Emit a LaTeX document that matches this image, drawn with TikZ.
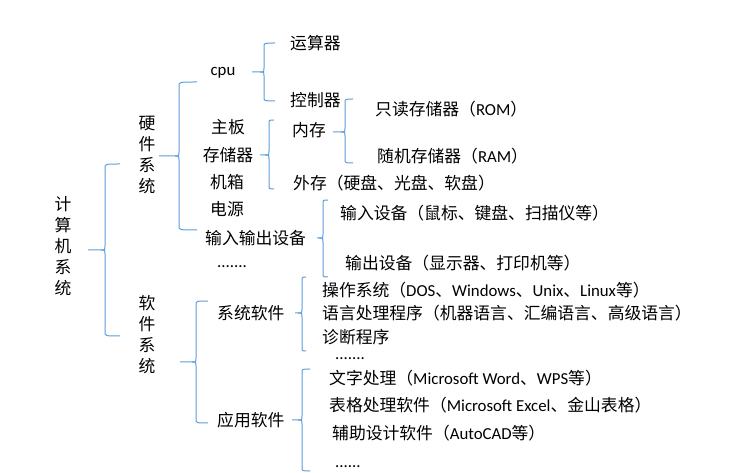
\documentclass[tikz,border=0pt]{standalone}
\usepackage{fontspec}
\setmainfont{Noto Sans CJK SC}
\newfontfamily\latf{Carlito}
\newcommand\la[1]{{\latf #1}}
\definecolor{brc}{HTML}{5E9DDB}
\newcommand\brc[6]{% x, top, mid, bot, xtail, xstub
  \draw[br] (#5,#2) .. controls (#1,#2) .. (#1,{#2+4}) -- (#1,{#3-4}) .. controls (#1,#3) .. ({#1-4},#3) -- (#6,#3);
  \draw[br] ({#1-4},#3) .. controls (#1,#3) .. (#1,{#3+4}) -- (#1,{#4-4}) .. controls (#1,#4) .. (#5,#4);
}
\begin{document}
\begin{tikzpicture}[x=1pt,y=-1pt,
  every node/.style={font=\fontsize{16.8}{21}\selectfont, inner sep=0pt, text=black},
  lab/.style={anchor=west},
  vert/.style={align=center},
  br/.style={draw=brc, line width=1pt}]
\useasboundingbox (0,0) rectangle (756,473);
% vertical labels
\node[vert] (root) at (63,246) {计\\算\\机\\系\\统};
\node[vert] (hw) at (147,155) {硬\\件\\系\\统};
\node[vert] (sw) at (147,335) {软\\件\\系\\统};
% hardware
\node (cpu) at (223,73) {\la{cpu}};
\node[lab] (alu) at (290,43) {运算器};
\node[lab] (ctl) at (290,100) {控制器};
\node (mb) at (228,127) {主板};
\node (sto) at (228,155) {存储器};
\node (case) at (227,182) {机箱};
\node (psu) at (227,209) {电源};
\node[lab] (io) at (205,238) {输入输出设备};
\node[lab] (hwdots) at (217,267) {\la{.......}};
\node[lab] (mem) at (292,130) {内存};
\node[lab] (rom) at (375,109) {只读存储器（\la{ROM}）};
\node[lab] (ram) at (377,156) {随机存储器（\la{RAM}）};
\node[lab] (ext) at (293,183) {外存（硬盘、光盘、软盘）};
\node[lab] (in) at (340,213) {输入设备（鼠标、键盘、扫描仪等）};
\node[lab] (out) at (345,263) {输出设备（显示器、打印机等）};
% software
\node[lab] (sys) at (217,313) {系统软件};
\node[lab] (app) at (217,420) {应用软件};
\node[lab] (os) at (322,290) {操作系统（\la{DOS}、\la{Windows}、\la{Unix}、\la{Linux}等）};
\node[lab] (lang) at (322,313) {语言处理程序（机器语言、汇编语言、高级语言）};
\node[lab] (diag) at (322,337) {诊断程序};
\node[lab] (sysdots) at (335,359) {\la{.......}};
\node[lab] (word) at (329,378) {文字处理（\la{Microsoft Word}、\la{WPS}等）};
\node[lab] (excel) at (329,405) {表格处理软件（\la{Microsoft Excel}、金山表格）};
\node[lab] (cad) at (332,433) {辅助设计软件（\la{AutoCAD}等）};
\node[lab] (appdots) at (335,467) {\la{......}};
% braces
\brc{105}{164}{250}{336}{120}{88}
\brc{179}{82}{156}{230}{197}{159}
\brc{264}{43}{72}{101}{275}{252}
\brc{269}{120}{155}{189}{274}{260}
\brc{345}{99}{132}{163}{353}{333}
\brc{323}{200}{238}{277}{328}{317}
\brc{196}{301}{362}{423}{208}{180}
\brc{302}{277}{313}{351}{306}{295}
\brc{302}{369}{420}{471}{310}{292}
\end{tikzpicture}
\end{document}
